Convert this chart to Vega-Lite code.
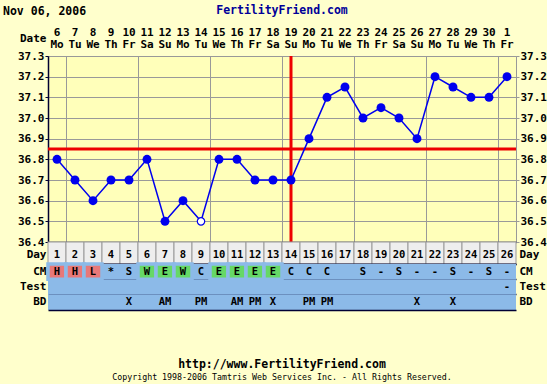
{
  "$schema": "https://vega.github.io/schema/vega-lite/v6.json",
  "background": "#FFFFCC",
  "padding": {"left": 3, "top": 4, "right": 0, "bottom": 0},
  "title": {"text": "Nov 06, 2006", "anchor": "start", "frame": "bounds", "dx": -14, "offset": -13, "fontSize": 11.5, "font": "DejaVu Sans Mono", "fontWeight": "bold", "color": "#000000"},
  "datasets": {
    "days": [
      {"Day": 1, "Date": 6, "Wd": "Mo", "temp": 36.8, "CM": "H", "Test": "", "BD": "", "status": "filled"},
      {"Day": 2, "Date": 7, "Wd": "Tu", "temp": 36.7, "CM": "H", "Test": "", "BD": "", "status": "filled"},
      {"Day": 3, "Date": 8, "Wd": "We", "temp": 36.6, "CM": "L", "Test": "", "BD": "", "status": "filled"},
      {"Day": 4, "Date": 9, "Wd": "Th", "temp": 36.7, "CM": "*", "Test": "", "BD": "", "status": "filled"},
      {"Day": 5, "Date": 10, "Wd": "Fr", "temp": 36.7, "CM": "S", "Test": "", "BD": "X", "status": "filled"},
      {"Day": 6, "Date": 11, "Wd": "Sa", "temp": 36.8, "CM": "W", "Test": "", "BD": "", "status": "filled"},
      {"Day": 7, "Date": 12, "Wd": "Su", "temp": 36.5, "CM": "E", "Test": "", "BD": "AM", "status": "filled"},
      {"Day": 8, "Date": 13, "Wd": "Mo", "temp": 36.6, "CM": "W", "Test": "", "BD": "", "status": "filled"},
      {"Day": 9, "Date": 14, "Wd": "Tu", "temp": 36.5, "CM": "C", "Test": "", "BD": "PM", "status": "open"},
      {"Day": 10, "Date": 15, "Wd": "We", "temp": 36.8, "CM": "E", "Test": "", "BD": "", "status": "filled"},
      {"Day": 11, "Date": 16, "Wd": "Th", "temp": 36.8, "CM": "E", "Test": "", "BD": "AM", "status": "filled"},
      {"Day": 12, "Date": 17, "Wd": "Fr", "temp": 36.7, "CM": "E", "Test": "", "BD": "PM", "status": "filled"},
      {"Day": 13, "Date": 18, "Wd": "Sa", "temp": 36.7, "CM": "E", "Test": "", "BD": "X", "status": "filled"},
      {"Day": 14, "Date": 19, "Wd": "Su", "temp": 36.7, "CM": "C", "Test": "", "BD": "", "status": "filled"},
      {"Day": 15, "Date": 20, "Wd": "Mo", "temp": 36.9, "CM": "C", "Test": "", "BD": "PM", "status": "filled"},
      {"Day": 16, "Date": 21, "Wd": "Tu", "temp": 37.1, "CM": "C", "Test": "", "BD": "PM", "status": "filled"},
      {"Day": 17, "Date": 22, "Wd": "We", "temp": 37.15, "CM": "", "Test": "", "BD": "", "status": "filled"},
      {"Day": 18, "Date": 23, "Wd": "Th", "temp": 37.0, "CM": "S", "Test": "", "BD": "", "status": "filled"},
      {"Day": 19, "Date": 24, "Wd": "Fr", "temp": 37.05, "CM": "-", "Test": "", "BD": "", "status": "filled"},
      {"Day": 20, "Date": 25, "Wd": "Sa", "temp": 37.0, "CM": "S", "Test": "", "BD": "", "status": "filled"},
      {"Day": 21, "Date": 26, "Wd": "Su", "temp": 36.9, "CM": "-", "Test": "", "BD": "X", "status": "filled"},
      {"Day": 22, "Date": 27, "Wd": "Mo", "temp": 37.2, "CM": "-", "Test": "", "BD": "", "status": "filled"},
      {"Day": 23, "Date": 28, "Wd": "Tu", "temp": 37.15, "CM": "S", "Test": "", "BD": "X", "status": "filled"},
      {"Day": 24, "Date": 29, "Wd": "We", "temp": 37.1, "CM": "-", "Test": "", "BD": "", "status": "filled"},
      {"Day": 25, "Date": 30, "Wd": "Th", "temp": 37.1, "CM": "S", "Test": "", "BD": "", "status": "filled"},
      {"Day": 26, "Date": 1, "Wd": "Fr", "temp": 37.2, "CM": "-", "Test": "-", "BD": "", "status": "filled"}
    ],
    "lines": [{"coverline": 36.85, "ovulationDay": 14}],
    "footer": [
      {"line": "url", "text": "http://www.FertilityFriend.com"},
      {"line": "copy", "text": "Copyright 1998-2006 Tamtris Web Services Inc. - All Rights Reserved."}
    ]
  },
  "spacing": 48,
  "vconcat": [
    {
      "spacing": 4,
      "bounds": "flush",
      "vconcat": [
        {
          "width": 468,
          "height": 28,
          "title": {"text": "FertilityFriend.com", "anchor": "middle", "color": "#000099", "fontSize": 11.5, "font": "DejaVu Sans Mono", "fontWeight": "bold", "offset": 8},
          "view": {"stroke": null},
          "data": {"name": "days"},
          "transform": [{"fold": ["Date"], "as": ["row", "val"]}],
          "layer": [
            {
              "mark": {"type": "text", "baseline": "bottom", "fontSize": 11},
              "encoding": {
                "x": {"field": "Day", "type": "quantitative", "scale": {"domain": [0.5, 26.5], "nice": false, "zero": false}, "axis": null},
                "y": {"field": "row", "type": "nominal", "axis": {"orient": "left", "title": null, "domain": false, "ticks": false, "labelPadding": 2}},
                "text": {"field": "val"}
              }
            },
            {
              "mark": {"type": "text", "baseline": "top", "fontSize": 11, "dy": 1},
              "encoding": {
                "x": {"field": "Day", "type": "quantitative", "scale": {"domain": [0.5, 26.5], "nice": false, "zero": false}, "axis": null},
                "y": {"field": "row", "type": "nominal"},
                "text": {"field": "Wd"}
              }
            }
          ]
        },
        {
          "spacing": 0,
          "bounds": "flush",
          "vconcat": [
            {
              "width": 468,
              "height": 186,
              "view": {"fill": "#FFFFBA", "stroke": "#999999"},
              "layer": [
                {
                  "data": {"name": "lines"},
                  "mark": {"type": "rule", "color": "#EE0000", "strokeWidth": 3},
                  "encoding": {"y": {"field": "coverline", "type": "quantitative", "axis": null}}
                },
                {
                  "data": {"name": "lines"},
                  "mark": {"type": "rule", "color": "#EE0000", "strokeWidth": 3},
                  "encoding": {"x": {"field": "ovulationDay", "type": "quantitative"}}
                },
                {
                  "data": {"name": "days"},
                  "mark": {"type": "line", "color": "#0000EE", "strokeWidth": 1.5},
                  "encoding": {
                    "x": {"field": "Day", "type": "quantitative", "scale": {"domain": [0.5, 26.5], "nice": false, "zero": false},
                      "axis": {"orient": "bottom", "values": [1.5, 2.5, 3.5, 4.5, 5.5, 6.5, 7.5, 8.5, 9.5, 10.5, 11.5, 12.5, 13.5, 14.5, 15.5, 16.5, 17.5, 18.5, 19.5, 20.5, 21.5, 22.5, 23.5, 24.5, 25.5], "grid": true, "gridColor": "#999999", "labels": false, "ticks": false, "domain": true, "domainColor": "#000033", "domainWidth": 1.5, "title": null, "minExtent": 0, "maxExtent": 0}},
                    "y": {"field": "temp", "type": "quantitative", "scale": {"domain": [36.4, 37.3], "nice": false, "zero": false},
                      "axis": {"orient": "left", "values": [36.4, 36.5, 36.6, 36.7, 36.8, 36.9, 37.0, 37.1, 37.2, 37.3], "format": ".1f", "grid": true, "gridColor": "#999999", "domainColor": "#000033", "domainWidth": 1.5, "tickColor": "#000033", "tickSize": 3, "labelPadding": 1, "labelOverlap": false, "title": null}}
                  }
                },
                {
                  "data": {"name": "days"},
                  "transform": [{"filter": "datum.status == 'filled'"}],
                  "mark": {"type": "circle", "size": 80, "color": "#0000EE", "opacity": 1},
                  "encoding": {
                    "x": {"field": "Day", "type": "quantitative"},
                    "y": {"field": "temp", "type": "quantitative",
                      "axis": {"orient": "right", "values": [36.4, 36.5, 36.6, 36.7, 36.8, 36.9, 37.0, 37.1, 37.2, 37.3], "format": ".1f", "grid": false, "domain": false, "tickColor": "#999999", "tickSize": 3, "labelPadding": 1, "labelOverlap": false, "title": null}}
                  }
                },
                {
                  "data": {"name": "days"},
                  "transform": [{"filter": "datum.status == 'open'"}],
                  "mark": {"type": "point", "shape": "circle", "size": 55, "fill": "#FFFFFF", "stroke": "#0000EE", "strokeWidth": 1.2, "filled": false, "opacity": 1},
                  "encoding": {
                    "x": {"field": "Day", "type": "quantitative"},
                    "y": {"field": "temp", "type": "quantitative", "axis": null}
                  }
                }
              ],
              "resolve": {"axis": {"y": "independent"}}
            },
            {
              "width": 468,
              "height": 22,
              "view": {"stroke": null},
              "data": {"name": "days"},
              "transform": [{"fold": ["Day"], "as": ["row", "val"]}],
              "layer": [
                {
                  "mark": {"type": "rect", "fill": "#EEEEEE", "stroke": "#999999", "strokeWidth": 1},
                  "encoding": {
                    "x": {"field": "Day", "type": "ordinal", "scale": {"paddingInner": 0, "paddingOuter": 0}, "axis": {"orient": "bottom", "labels": false, "ticks": false, "grid": false, "domainColor": "#000033", "domainWidth": 1.5, "title": null, "minExtent": 0, "maxExtent": 0}},
                    "y": {"field": "row", "type": "nominal", "axis": {"orient": "left", "title": null, "domain": false, "ticks": false, "labelPadding": 2, "labelOffset": 2}}
                  }
                },
                {
                  "mark": {"type": "text", "fontSize": 10.5, "dy": 2},
                  "encoding": {
                    "x": {"field": "Day", "type": "ordinal"},
                    "y": {"field": "row", "type": "nominal", "axis": {"orient": "right", "title": null, "domain": false, "ticks": false, "labelPadding": 3, "labelOffset": 2}},
                    "text": {"field": "val"}
                  }
                }
              ],
              "resolve": {"axis": {"y": "independent"}}
            },
            {
              "width": 468,
              "height": 46,
              "view": {"stroke": null},
              "data": {"name": "days"},
              "transform": [{"fold": ["CM", "Test", "BD"], "as": ["row", "val"]}],
              "layer": [
                {
                  "mark": {"type": "rect", "fill": "#8CBAE8"},
                  "encoding": {
                    "x": {"field": "Day", "type": "ordinal", "scale": {"paddingInner": 0, "paddingOuter": 0}, "axis": {"orient": "bottom", "labels": false, "ticks": false, "grid": false, "domainColor": "#000033", "domainWidth": 1.5, "title": null, "minExtent": 0, "maxExtent": 0}},
                    "y": {"field": "row", "type": "nominal", "sort": ["CM", "Test", "BD"], "axis": {"orient": "left", "title": null, "domain": false, "ticks": false, "labelPadding": 2}}
                  }
                },
                {
                  "transform": [{"filter": {"field": "val", "oneOf": ["H", "L", "W", "E"]}}],
                  "mark": {"type": "rect", "stroke": "#8CBAE8", "strokeWidth": 3.5},
                  "encoding": {
                    "x": {"field": "Day", "type": "ordinal"},
                    "y": {"field": "row", "type": "nominal", "sort": ["CM", "Test", "BD"], "axis": {"orient": "right", "title": null, "domain": false, "ticks": false, "labelPadding": 3}},
                    "color": {"field": "val", "type": "nominal", "scale": {"domain": ["H", "L", "W", "E"], "range": ["#E87878", "#E87878", "#66D866", "#66D866"]}, "legend": null}
                  }
                },
                {
                  "mark": {"type": "text", "fontSize": 10.5},
                  "encoding": {
                    "x": {"field": "Day", "type": "ordinal"},
                    "y": {"field": "row", "type": "nominal", "sort": ["CM", "Test", "BD"], "axis": {"orient": "left", "title": null, "labels": false, "ticks": false, "domain": false, "grid": true, "gridColor": "#000033", "gridWidth": 1.5, "bandPosition": 0, "minExtent": 0, "maxExtent": 0}},
                    "text": {"field": "val"}
                  }
                }
              ],
              "resolve": {"axis": {"y": "independent"}}
            }
          ]
        }
      ]
    },
    {
      "width": 468,
      "height": 26,
      "view": {"stroke": null},
      "data": {"name": "footer"},
      "layer": [
        {
          "transform": [{"filter": "datum.line == 'url'"}],
          "mark": {"type": "text", "fontSize": 11.5, "fontWeight": "bold"},
          "encoding": {
            "y": {"field": "line", "type": "nominal", "sort": ["url", "copy"], "axis": null},
            "text": {"field": "text"}
          }
        },
        {
          "transform": [{"filter": "datum.line == 'copy'"}],
          "mark": {"type": "text", "fontSize": 8.3, "fontWeight": "normal"},
          "encoding": {
            "y": {"field": "line", "type": "nominal", "sort": ["url", "copy"], "axis": null},
            "text": {"field": "text"}
          }
        }
      ]
    }
  ],
  "config": {
    "font": "DejaVu Sans Mono",
    "axis": {"labelFont": "DejaVu Sans Mono", "labelFontWeight": "bold", "labelFontSize": 11, "labelColor": "#000000"},
    "text": {"font": "DejaVu Sans Mono", "fontWeight": "bold", "fontSize": 11, "color": "#000000"}
  }
}
